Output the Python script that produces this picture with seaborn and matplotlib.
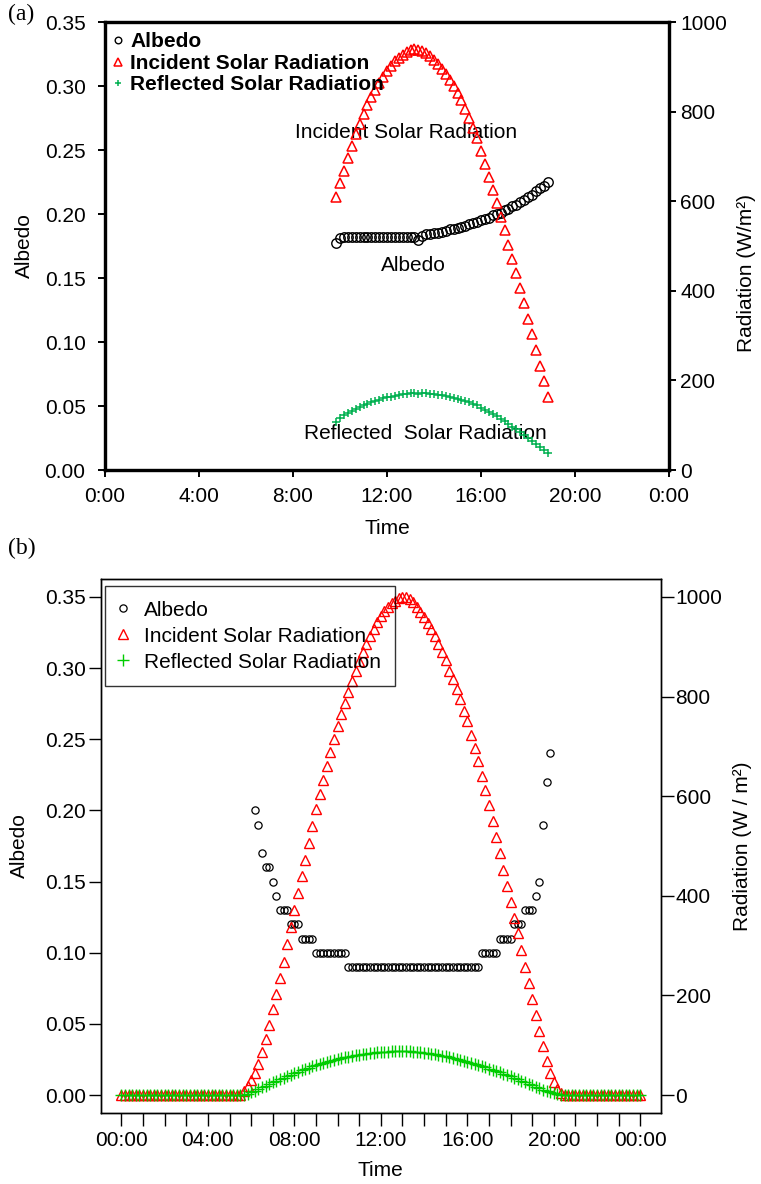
import numpy as np
import pandas as pd
import matplotlib
matplotlib.use("Agg")
import matplotlib.pyplot as plt
import seaborn as sns

# ---------------- Panel (a): 10-min samples from 09:50 to 18:50 ----------------
a_start_hour = 9 + 50 / 60
a_albedo = [0.177, 0.181, 0.182, 0.182, 0.182, 0.182, 0.182, 0.182, 0.182, 0.182,
            0.182, 0.182, 0.182, 0.182, 0.182, 0.182, 0.182, 0.182, 0.182, 0.182,
            0.182, 0.180, 0.183, 0.184, 0.184, 0.185, 0.185, 0.186, 0.187, 0.188,
            0.188, 0.189, 0.190, 0.191, 0.192, 0.193, 0.194, 0.195, 0.196, 0.197,
            0.199, 0.200, 0.201, 0.203, 0.204, 0.206, 0.207, 0.209, 0.211, 0.213,
            0.215, 0.218, 0.220, 0.222, 0.225]
a_incident = [610, 641, 668, 697, 723, 750, 772, 794, 814, 832,
              849, 864, 878, 891, 902, 912, 920, 927, 933, 937,
              940, 938, 935, 930, 923, 915, 906, 896, 884, 871,
              857, 842, 825, 806, 786, 764, 740, 712, 684, 655,
              626, 596, 565, 535, 503, 471, 439, 406, 372, 336,
              304, 268, 233, 199, 164]
a_reflected = [108, 116, 122, 127, 132, 137, 141, 145, 148, 151,
               155, 157, 160, 162, 164, 166, 167, 169, 170, 171,
               171, 169, 171, 171, 170, 169, 168, 167, 165, 164,
               161, 159, 157, 154, 151, 147, 144, 139, 135, 130,
               125, 120, 114, 109, 103, 97, 91, 85, 78, 72,
               65, 58, 51, 44, 37]

# ---------------- Panel (b): 10-min samples from 00:00 to 24:00 ----------------
b_incident = [0, 0, 0, 0, 0, 0, 0, 0, 0, 0, 0, 0, 0, 0, 0, 0, 0,
              0, 0, 0, 0, 0, 0, 0, 0, 0, 0, 0, 0, 0, 0, 0, 0, 0,
              8, 18, 30, 45, 62, 87, 112, 140, 172, 203, 235, 267, 303, 338, 372, 405,
              440, 472, 507, 541, 575, 605, 632, 660, 688, 714, 740, 765, 788, 810, 832,
              852, 872, 890, 906, 922, 936, 950, 961, 971, 980, 987, 992, 997, 1000, 999,
              995, 989, 980, 970, 960, 948, 935, 922, 906, 890, 873, 852, 835, 815, 795,
              772, 750, 723, 697, 670, 640, 612, 582, 550, 518, 485, 452, 420, 388, 356,
              325, 292, 258, 224, 192, 160, 128, 98, 68, 45, 27, 12, 4, 0,
              0, 0, 0, 0, 0, 0, 0, 0, 0, 0, 0, 0, 0, 0, 0, 0, 0, 0, 0, 0, 0]
b_reflected = [0, 0, 0, 0, 0, 0, 0, 0, 0, 0, 0, 0, 0, 0, 0, 0, 0,
               0, 0, 0, 0, 0, 0, 0, 0, 0, 0, 0, 0, 0, 0, 0, 0, 0,
               1, 3, 6, 9, 12, 16, 19, 22, 26, 29, 32, 35, 38, 41, 44, 47,
               50, 52, 55, 58, 60, 62, 64, 66, 68, 70, 72, 74, 76, 77, 79,
               80, 81, 82, 83, 84, 85, 86, 86, 87, 87, 88, 88, 88, 88, 88,
               88, 87, 87, 86, 85, 84, 83, 82, 81, 79, 78, 76, 74, 72, 70,
               68, 66, 64, 62, 60, 58, 56, 53, 51, 48, 46, 43, 41, 38, 35,
               32, 29, 26, 23, 20, 17, 14, 11, 8, 6, 4, 2, 1, 0,
               0, 0, 0, 0, 0, 0, 0, 0, 0, 0, 0, 0, 0, 0, 0, 0, 0, 0, 0, 0, 0]
b_albedo_start_hour = 6 + 10 / 60
b_albedo = [0.20, 0.19, 0.17, 0.16, 0.16, 0.15, 0.14, 0.13, 0.13, 0.13,
            0.12, 0.12, 0.12, 0.11, 0.11, 0.11, 0.11,
            0.10, 0.10, 0.10, 0.10, 0.10, 0.10, 0.10, 0.10, 0.10,
            0.09, 0.09, 0.09, 0.09, 0.09, 0.09, 0.09, 0.09, 0.09, 0.09,
            0.09, 0.09, 0.09, 0.09, 0.09, 0.09, 0.09, 0.09, 0.09, 0.09,
            0.09, 0.09, 0.09, 0.09, 0.09, 0.09, 0.09, 0.09, 0.09, 0.09,
            0.09, 0.09, 0.09, 0.09, 0.09, 0.09, 0.09,
            0.10, 0.10, 0.10, 0.10, 0.10,
            0.11, 0.11, 0.11, 0.11,
            0.12, 0.12, 0.12,
            0.13, 0.13, 0.13,
            0.14, 0.15, 0.19, 0.22, 0.24]

a_ticks_hours = [0, 4, 8, 12, 16, 20, 24]
a_tick_labels = ["0:00", "4:00", "8:00", "12:00", "16:00", "20:00", "0:00"]
b_tick_labels = ["00:00", "04:00", "08:00", "12:00", "16:00", "20:00", "00:00"]
albedo_ticks = [0.00, 0.05, 0.10, 0.15, 0.20, 0.25, 0.30, 0.35]
rad_ticks = [0, 200, 400, 600, 800, 1000]
series_names = ["Albedo", "Incident Solar Radiation", "Reflected Solar Radiation"]

step = 1 / 6
df_a = pd.DataFrame({"time": a_start_hour + step * np.arange(len(a_albedo)),
                     "albedo": a_albedo, "incident": a_incident, "reflected": a_reflected})
df_b = pd.DataFrame({"time": step * np.arange(len(b_incident)),
                     "incident": b_incident, "reflected": b_reflected})
df_b_alb = pd.DataFrame({"time": b_albedo_start_hour + step * np.arange(len(b_albedo)),
                         "albedo": b_albedo})

sns.set_style("ticks")
plt.rcParams["font.family"] = ["Liberation Sans", "DejaVu Sans"]
plt.rcParams["axes.edgecolor"] = "black"
plt.rcParams["text.color"] = "black"
plt.rcParams["axes.labelcolor"] = "black"
plt.rcParams["xtick.color"] = "black"
plt.rcParams["ytick.color"] = "black"

W, H = 761, 1184
fig = plt.figure(figsize=(W / 100, H / 100), dpi=100)


def box(l, t, r, b):
    return [l / W, 1 - b / H, (r - l) / W, (b - t) / H]


def pts(ax, data, y, **kw):
    sns.lineplot(data=data, x="time", y=y, ax=ax, linestyle="none",
                 estimator=None, sort=False, **kw)
    return ax.lines[-1]


FS = 15
RED = "#ff0000"

# ======================= Panel (a) =======================
ax = fig.add_axes(box(105, 22, 669, 470))
ax2 = ax.twinx()
h1 = pts(ax, df_a, "albedo", marker="o", markersize=6.8, markerfacecolor="none",
         markeredgecolor="black", markeredgewidth=1.0, color="black")
h2 = pts(ax2, df_a, "incident", marker="^", markersize=7.4, markerfacecolor="none",
         markeredgecolor=RED, markeredgewidth=1.1, color=RED)
h3 = pts(ax2, df_a, "reflected", marker="+", markersize=5.5, markeredgecolor="#00b050",
         markeredgewidth=1.1, color="#00b050")
ax.set_xlim(0, 24)
ax.set_ylim(0, 0.35)
ax2.set_ylim(0, 1000)
ax.set_xticks(a_ticks_hours)
ax.set_xticklabels(a_tick_labels)
ax.set_yticks(albedo_ticks)
ax.set_yticklabels([f"{v:.2f}" for v in albedo_ticks])
ax2.set_yticks(rad_ticks)
for s in ax.spines.values():
    s.set_linewidth(2.3)
for s in ax2.spines.values():
    s.set_linewidth(2.3)
ax.tick_params(axis="both", direction="out", length=5, width=1.4, labelsize=FS, colors="black")
ax.tick_params(axis="y", pad=9)
ax.tick_params(axis="x", pad=7)
ax2.tick_params(axis="y", direction="out", length=5, width=1.4, labelsize=FS, pad=3)
ax.set_xlabel("Time", fontsize=FS)
ax.set_ylabel("Albedo", fontsize=FS)
ax2.set_ylabel("Radiation (W/m²)", fontsize=FS)
ax.xaxis.label.set_va("center")
ax.yaxis.label.set_va("center")
ax2.yaxis.label.set_va("center")
ax.xaxis.set_label_coords(0.5, -(529 - 470) / 448)
ax.yaxis.set_label_coords((24 - 105) / 564, 0.5)
ax2.yaxis.set_label_coords((747 - 105) / 564, 0.44)
ax.text(12.8, 0.264, "Incident Solar Radiation", fontsize=FS, ha="center", va="center")
ax.text(13.12, 0.160, "Albedo", fontsize=FS, ha="center", va="center")
ax.text(13.65, 0.0287, "Reflected  Solar Radiation", fontsize=FS, ha="center", va="center")
leg = ax2.legend([h1, h2, h3], series_names, loc="upper left",
                 bbox_to_anchor=(0.008, 0.9766), frameon=False, borderpad=0,
                 borderaxespad=0, markerscale=0.7, handlelength=0.8,
                 handletextpad=0.2, labelspacing=0.12,
                 prop={"weight": "bold", "size": FS})
fig.text(21 / W, 1 - 14 / H, "(a)", family=["Liberation Serif"], fontsize=17,
         ha="center", va="center")

# ======================= Panel (b) =======================
bx = fig.add_axes(box(100.7, 579, 661, 1113))
bx2 = bx.twinx()
g1 = pts(bx, df_b_alb, "albedo", marker="o", markersize=5.2, markerfacecolor="none",
         markeredgecolor="black", markeredgewidth=0.9, color="black")
g2 = pts(bx2, df_b, "incident", marker="^", markersize=7.8, markerfacecolor="none",
         markeredgecolor=RED, markeredgewidth=1.0, color=RED)
g3 = pts(bx2, df_b, "reflected", marker="+", markersize=9, markeredgecolor="#00cc00",
         markeredgewidth=1.0, color="#00cc00")
bx.set_xlim(-0.96, 24.96)
bx.set_ylim(-0.0126, 0.3626)
bx2.set_ylim(-36, 1036)
bx.set_xticks(range(0, 25))
bx.set_xticklabels([b_tick_labels[h // 4] if h % 4 == 0 else "" for h in range(0, 25)])
bx.set_yticks(albedo_ticks)
bx.set_yticklabels([f"{v:.2f}" for v in albedo_ticks])
bx2.set_yticks(rad_ticks)
for s in list(bx.spines.values()) + list(bx2.spines.values()):
    s.set_linewidth(1.0)
bx.tick_params(axis="both", direction="out", length=9, width=1.0, labelsize=FS, colors="black")
bx.tick_params(axis="y", pad=1.5)
bx.tick_params(axis="x", pad=4)
bx2.tick_params(axis="y", direction="out", length=9, width=1.0, labelsize=FS, pad=1.5)
bx.set_xlabel("Time", fontsize=FS)
bx.set_ylabel("Albedo", fontsize=FS)
bx2.set_ylabel("Radiation (W / m²)", fontsize=FS)
bx.xaxis.label.set_va("center")
bx.yaxis.label.set_va("center")
bx2.yaxis.label.set_va("center")
bx.xaxis.set_label_coords(0.5, -(1170 - 1113) / 534)
bx.yaxis.set_label_coords((19 - 100.7) / 560.3, 0.5)
bx2.yaxis.set_label_coords((743 - 100.7) / 560.3, 0.5)
legb = bx2.legend([g1, g2, g3], series_names, loc="upper left",
                  bbox_to_anchor=(0.0077, 0.987), frameon=True, fancybox=False,
                  borderpad=0.7, borderaxespad=0, handlelength=0.3,
                  handletextpad=0.85, labelspacing=0.34, prop={"size": FS})
fr = legb.get_frame()
fr.set_edgecolor("black")
fr.set_linewidth(1.0)
fr.set_facecolor("none")
fig.text(22 / W, 1 - 548 / H, "(b)", family=["Liberation Serif"], fontsize=17,
         ha="center", va="center")

fig.savefig("out.png", dpi=100)
